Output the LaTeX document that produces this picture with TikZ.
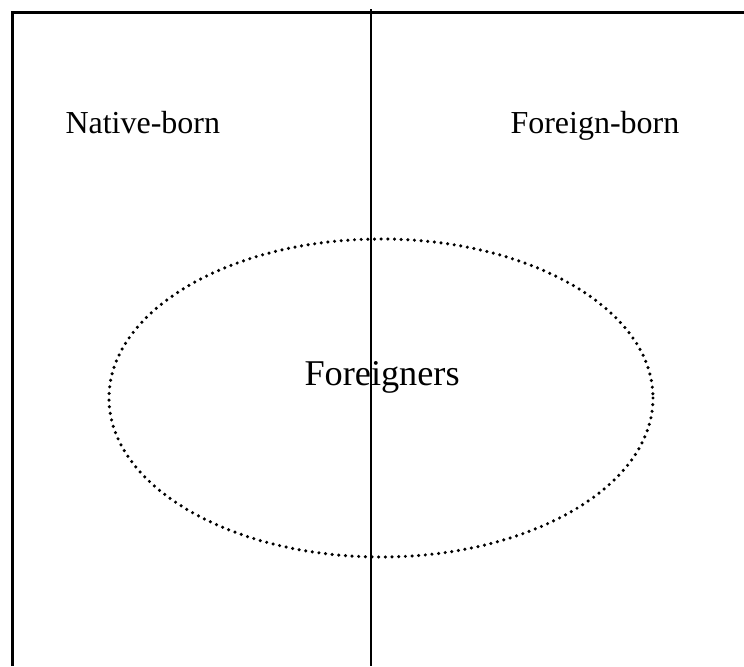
\documentclass[tikz,border=0pt]{standalone}
\usepackage{fontspec}
\setmainfont{Liberation Serif}
\usepackage{tikz}
\usetikzlibrary{positioning,calc}
\tikzset{
  frame/.style={draw=black,line width=1.2pt},
  divider/.style={draw=black,line width=0.75pt},
  dotring/.style={draw=black,line width=1.3pt,line cap=round,dash pattern=on 0pt off 2.5pt},
  sidelabel/.style={inner sep=0pt,anchor=base west,font=\fontsize{12}{14}\selectfont},
  biglabel/.style={inner sep=0pt,anchor=base west,font=\fontsize{13.6}{16}\selectfont}
}
\begin{document}
\begin{tikzpicture}[x=0.375pt,y=-0.375pt]
  \useasboundingbox (0,0) rectangle (744,666);
  \coordinate (topleft) at (12.5,12.5);
  \coordinate (topright) at (744,12.5);
  \coordinate (bottomleft) at (12.5,666);
  \coordinate (divtop) at (370.5,9);
  \coordinate (divbottom) at (370.5,666);
  \draw[frame] (bottomleft) -- (topleft) -- (topright);
  \draw[dotring] (381,398) ellipse [x radius=272,y radius=159];
  \node[sidelabel] (native) at (65,133) {Native-born};
  \node[sidelabel] (foreign) at (510,133) {Foreign-born};
  \node[biglabel] (foreigners) at (304,385) {Foreigners};
  \draw[divider] (divtop) -- (divbottom);
\end{tikzpicture}
\end{document}
